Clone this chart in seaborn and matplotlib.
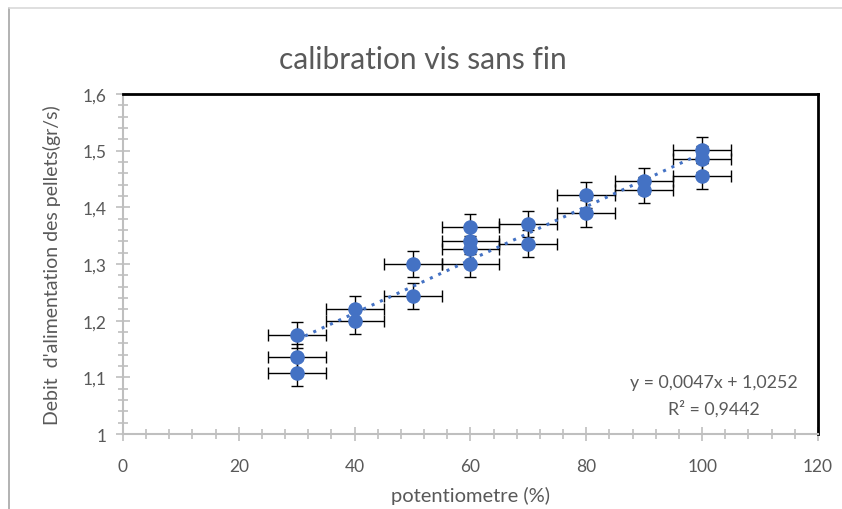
import matplotlib
matplotlib.use("Agg")
import matplotlib.pyplot as plt
import seaborn as sns
import pandas as pd
from matplotlib.ticker import MultipleLocator, FuncFormatter
from matplotlib.lines import Line2D

sns.set_theme(style="white")
plt.rcParams['font.family'] = ['Lato', 'DejaVu Sans']

# data
potentiometre = [30, 30, 30, 40, 40, 50, 50, 60, 60, 60, 60, 70, 70, 80, 80, 90, 90, 100, 100, 100]
debit = [1.175, 1.135, 1.107, 1.221, 1.200, 1.300, 1.244, 1.365, 1.340, 1.326, 1.300,
         1.371, 1.336, 1.421, 1.389, 1.446, 1.430, 1.501, 1.485, 1.455]
x_err = 5
y_err = 0.023
trend_slope = 0.0047
trend_intercept = 1.0252
trend_x = [30, 100]

df = pd.DataFrame({'potentiometre': potentiometre, 'debit': debit})

GREY_TXT = '#595959'
AXIS_GREY = '#bfbfbf'
BLUE = '#4472C4'

fig = plt.figure(figsize=(8.42, 5.10), dpi=100)
ax = fig.add_axes([0.146, 0.147, 0.8255, 0.667])

ax.errorbar(df['potentiometre'], df['debit'], xerr=x_err, yerr=y_err, fmt='none',
            ecolor='black', elinewidth=1.0, capsize=4, capthick=1.0, zorder=2)
sns.scatterplot(data=df, x='potentiometre', y='debit', ax=ax, color=BLUE, s=110,
                edgecolor=BLUE, linewidth=0, zorder=3)
trend_y = [trend_slope * v + trend_intercept for v in trend_x]
ax.plot(trend_x, trend_y, color=BLUE, linestyle=(0, (1, 2)), linewidth=2.2, zorder=4)

ax.set_xlim(0, 120)
ax.set_ylim(1, 1.6)
ax.xaxis.set_major_locator(MultipleLocator(20))
ax.xaxis.set_minor_locator(MultipleLocator(4))
ax.yaxis.set_major_locator(MultipleLocator(0.1))
ax.yaxis.set_minor_locator(MultipleLocator(0.02))

def comma(v, pos):
    s = f'{v:.1f}'.rstrip('0').rstrip('.')
    return s.replace('.', ',')

ax.yaxis.set_major_formatter(FuncFormatter(comma))
ax.xaxis.set_major_formatter(FuncFormatter(lambda v, p: f'{v:.0f}'))

ax.tick_params(axis='both', which='major', direction='inout', length=10, width=1.2,
               color=AXIS_GREY, labelcolor=GREY_TXT, labelsize=12.5, pad=7,
               bottom=True, left=True)
ax.tick_params(axis='x', which='major', pad=12)
ax.tick_params(axis='both', which='minor', direction='inout', length=7, width=1.2,
               color=AXIS_GREY, bottom=True, left=True)

for side in ['left', 'bottom']:
    ax.spines[side].set_color(AXIS_GREY)
    ax.spines[side].set_linewidth(1.5)
for side in ['top', 'right']:
    ax.spines[side].set_color('black')
    ax.spines[side].set_linewidth(2)

ax.set_xlabel('potentiometre (%)', color=GREY_TXT, fontsize=14.5, labelpad=9)
ax.set_ylabel("Debit  d'alimentation des pellets(gr/s)", color=GREY_TXT, fontsize=14, labelpad=15)
fig.text(0.502, 0.882, 'calibration vis sans fin', ha='center', va='center',
         color=GREY_TXT, fontsize=21.5)

ax.text(0.85, 0.153, 'y = 0,0047x + 1,0252', transform=ax.transAxes, ha='center',
        va='center', color=GREY_TXT, fontsize=12.8)
ax.text(0.85, 0.076, 'R² = 0,9442', transform=ax.transAxes, ha='center',
        va='center', color=GREY_TXT, fontsize=12.8)

# chart frame edges of the screenshot
fig.add_artist(Line2D([0.0107, 0.0107], [0, 0.982], transform=fig.transFigure,
                      color='#a6a6a6', linewidth=1.2))
fig.add_artist(Line2D([0.0107, 1], [0.982, 0.982], transform=fig.transFigure,
                      color='#d9d9d9', linewidth=1.2))

fig.savefig('out.png', dpi=100)
